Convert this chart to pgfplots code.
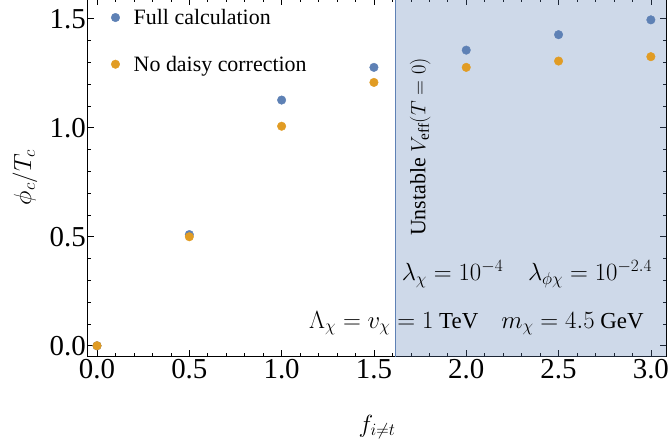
\documentclass[border=0pt]{standalone}
\usepackage{fontspec}
\setmainfont{Liberation Serif}
\usepackage{pgfplots}
\pgfplotsset{compat=1.18}
\definecolor{mblue}{rgb}{0.368417,0.506779,0.709798}
\definecolor{morange}{rgb}{0.880722,0.611041,0.142051}
\begin{document}
\begin{tikzpicture}
\begin{axis}[
  at={(0,0)}, anchor=south west,
  scale only axis, width=578bp, height=357bp,
  xmin=-0.0488, xmax=3.082, ymin=-0.047, ymax=1.5906,
  xtick={0,0.5,1,1.5,2,2.5,3},
  xticklabels={0.0,0.5,1.0,1.5,2.0,2.5,3.0},
  ytick={0,0.5,1,1.5},
  yticklabels={0.0,0.5,1.0,1.5},
  minor x tick num=4, minor y tick num=4,
  tick align=inside,
  major tick length=6bp, minor tick length=3bp,
  every tick/.style={black, line width=0.6pt},
  axis line style={black, line width=1pt},
  ticklabel style={font=\rmfamily\fontsize{29}{33}\selectfont},
  xticklabel style={inner ysep=3bp},
  yticklabel style={inner xsep=2bp},
  xlabel={$f_{i\neq t}$},
  ylabel={$\phi_c/T_c$},
  label style={font=\fontsize{27}{31}\selectfont},
  xlabel style={at={(rel axis cs:0.5,0)}, anchor=center, yshift=-71bp},
  ylabel style={at={(rel axis cs:0,0.5)}, anchor=center, yshift=63bp},
  legend style={draw=none, fill=none, at={(rel axis cs:0,1)}, anchor=north west,
    font=\rmfamily\fontsize{22}{26}\selectfont, row sep=26bp, xshift=20bp, yshift=-6bp,
    /tikz/every odd column/.style={column sep=12bp}},
  legend cell align=left,
  clip=true,
]
\addplot[only marks, mark=*, mark size=4.3pt, mblue, mark options={draw=none, fill=mblue}]
  coordinates {(0,0) (0.5,0.51) (1.0,1.127) (1.5,1.277) (2.0,1.356) (2.5,1.427) (3.0,1.495)};
\addlegendentry{Full calculation}
\addplot[only marks, mark=*, mark size=4.3pt, morange, mark options={draw=none, fill=morange}]
  coordinates {(0,0) (0.5,0.50) (1.0,1.007) (1.5,1.208) (2.0,1.277) (2.5,1.306) (3.0,1.326)};
\addlegendentry{No daisy correction}
\addplot[forget plot, draw=none, fill=mblue, fill opacity=0.3]
  coordinates {(1.615,-0.2) (3.2,-0.2) (3.2,1.8) (1.615,1.8)} -- cycle;
\addplot[forget plot, mblue, line width=0.8pt]
  coordinates {(1.615,-0.2) (1.615,1.8)};
\node[rotate=90, font=\rmfamily\fontsize{22}{26}\selectfont] at (axis cs:1.75,0.9115)
  {Unstable $V_{\mathrm{eff}}(T=0)$};
\node[anchor=east, font=\rmfamily\fontsize{25}{29}\selectfont] at (axis cs:3.025,0.33)
  {$\lambda_\chi = 10^{-4}\quad \lambda_{\phi\chi} = 10^{-2.4}$};
\node[anchor=east, font=\rmfamily\fontsize{23}{27}\selectfont] at (axis cs:2.98,0.104)
  {$\Lambda_\chi = v_\chi = 1$ TeV\quad $m_\chi = 4.5$ GeV};
\end{axis}
\pgfresetboundingbox
\path[use as bounding box] (-88bp,-90bp) rectangle (582bp,356bp);
\end{tikzpicture}
\end{document}
